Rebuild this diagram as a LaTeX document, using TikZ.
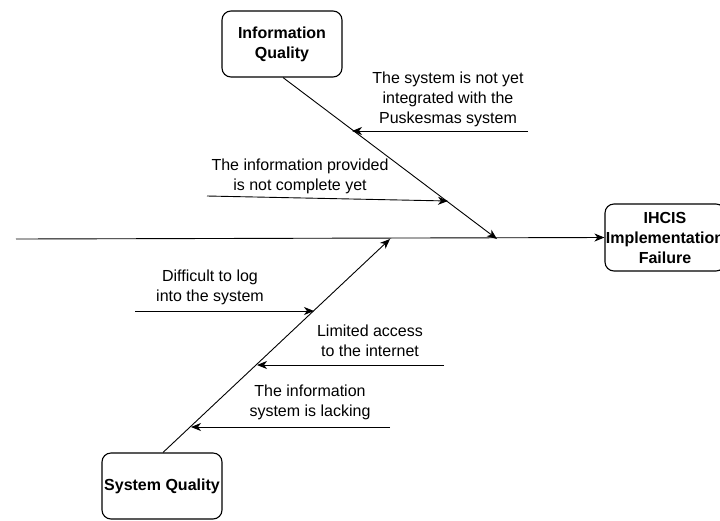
\documentclass[tikz,border=0pt]{standalone}
\usepackage{fontspec}
\setmainfont{Liberation Sans}
\usetikzlibrary{arrows.meta}
\begin{document}
\begin{tikzpicture}[x=1pt,y=-1pt,
  every node/.style={font=\fontsize{16}{20}\selectfont, align=center, inner sep=0pt},
  catbox/.style={draw, rounded corners=9pt, line width=1.1pt, font=\bfseries\fontsize{16}{20}\selectfont},
  bone/.style={line width=0.9pt, -{Stealth[length=10pt,width=8pt,inset=3pt]}}]
\useasboundingbox (0,0) rectangle (720,520);
% category boxes
\node[catbox, minimum width=120pt, minimum height=66pt] (iq) at (282,44) {Information\\Quality};
\node[catbox, minimum width=120pt, minimum height=66pt] (sq) at (162,486) {System Quality};
\node[draw, rounded corners=9pt, line width=1.1pt, minimum width=120pt, minimum height=67pt] (ihbox) at (665,237.5) {};
\node[font=\bfseries\fontsize{16}{20}\selectfont] (ih) at (665,237.5) {IHCIS\\Implementation\\Failure};
% spine
\coordinate (sp0) at (16,239);
\draw[bone] (sp0) -- (ihbox.west);
% bones
\coordinate (iqend) at (497,239);
\coordinate (sqend) at (390,239);
\draw[bone] (iq.south) ++(1,0) coordinate (iqs) -- (iqend);
\draw[bone] (sq.north) ++(1,0) coordinate (sqs) -- (sqend);
% causes
\coordinate (c1s) at (528,131); \coordinate (c1e) at (352,131);
\node (t1) at (448,99) {The system is not yet\\integrated with the\\Puskesmas system};
\draw[bone] (c1s) -- (c1e);
\coordinate (c2s) at (207,196); \coordinate (c2e) at (448,201);
\node (t2) at (300,176) {The information provided\\is not complete yet};
\draw[bone] (c2s) -- (c2e);
\coordinate (c3s) at (135,311); \coordinate (c3e) at (314,311);
\node (t3) at (210,287) {Difficult to log\\into the system};
\draw[bone] (c3s) -- (c3e);
\coordinate (c4s) at (444,365); \coordinate (c4e) at (257,365);
\node (t4) at (370,341) {Limited access\\to the internet};
\draw[bone] (c4s) -- (c4e);
\coordinate (c5s) at (390,427); \coordinate (c5e) at (191,427);
\node (t5) at (310,402) {The information\\system is lacking};
\draw[bone] (c5s) -- (c5e);
\end{tikzpicture}
\end{document}
